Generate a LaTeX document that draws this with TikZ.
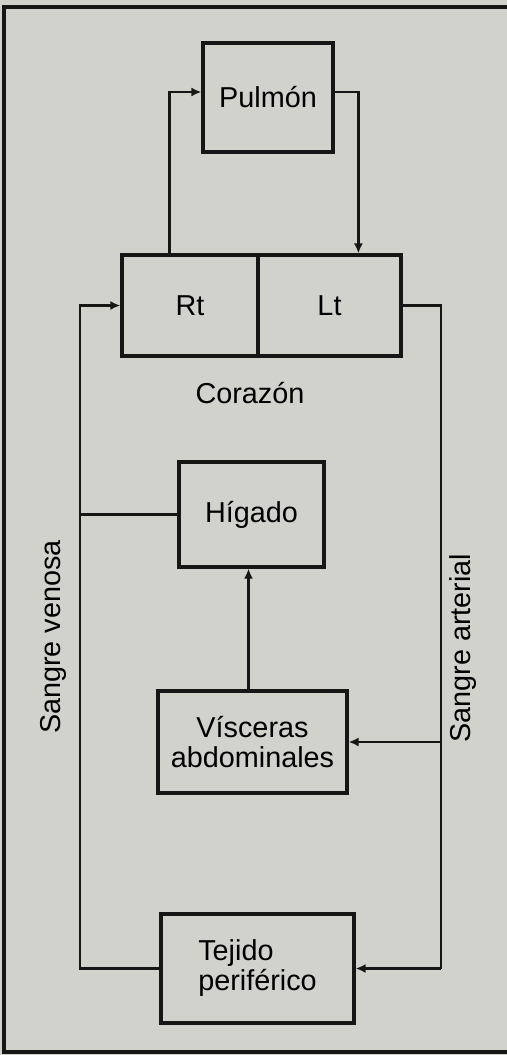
\documentclass[tikz,border=0pt]{standalone}
\usepackage{fontspec}
\setmainfont{Liberation Sans}
\usetikzlibrary{arrows.meta}
\definecolor{paper}{RGB}{210,210,204}
\definecolor{ink}{RGB}{22,22,22}
\tikzset{
  organ/.style={draw=ink, line width=1.6pt, inner sep=0pt, font=\fontsize{14.4}{15}\selectfont, text=black},
  flow/.style={draw=ink, line width=1.4pt, -{Latex[length=5pt,width=4.5pt]}},
  plain/.style={draw=ink, line width=1.4pt},
  lbl/.style={font=\fontsize{14.4}{15}\selectfont, text=black, inner sep=0pt},
  frame/.style={draw=ink, line width=1.6pt}
}
\begin{document}
\begin{tikzpicture}[x=0.5pt,y=-0.5pt]
\fill[paper] (0,0) rectangle (507,1055);
\useasboundingbox (0,0) rectangle (507,1055);
% outer frame
\coordinate (f1) at (507,7);
\coordinate (f2) at (4,7);
\coordinate (f3) at (4,1052);
\coordinate (f4) at (507,1052);
\draw[frame] (f1) -- (f2) -- (f3) -- (f4);
% boxes
\node[organ, minimum width=65pt, minimum height=54.5pt] (Pulmon) at (268,97.5) {Pulmón};
\node[organ, minimum width=68pt, minimum height=50.5pt] (Rt) at (190,305.5) {Rt};
\node[organ, minimum width=71.5pt, minimum height=50.5pt] (Lt) at (329.5,305.5) {Lt};
\node[lbl] (Corazon) at (250,393) {Corazón};
\node[organ, minimum width=72.5pt, minimum height=52.5pt] (Higado) at (251.5,514.5) {Hígado};
\node[organ, minimum width=94.5pt, minimum height=51pt, align=center] (Visceras) at (252.5,742) {Vísceras\\abdominales};
\node[organ, minimum width=96.5pt, minimum height=54.5pt, align=left] (Tejido) at (257.5,968.5) {Tejido\\periférico};
% vertical trunk coordinates
\coordinate (vx) at (80,0);
\coordinate (ax) at (441,0);
% labels
\node[lbl, rotate=90] (venosa) at (53,637) {Sangre venosa};
\node[lbl, rotate=90] (arterial) at (463,648) {Sangre arterial};
% pulmonary circuit
\draw[flow] ([xshift=24.5pt]Rt.north west) |- ([yshift=2.75pt]Pulmon.west);
\draw[flow] ([yshift=2.75pt]Pulmon.east) -| ([xshift=51pt]Lt.north west);
% venous return
\draw[flow] (Tejido.west) -| (vx |- Rt.west) -- (Rt.west);
\draw[plain] (Higado.west) -- (Higado.west -| vx);
% arterial supply
\draw[plain] (Lt.east) -| (ax |- Tejido.east);
\draw[flow] (ax |- Tejido.east) -- (Tejido.east);
\draw[flow] (ax |- Visceras.east) -- (Visceras.east);
% portal flow
\draw[flow] ([xshift=-2pt]Visceras.north) -- ([xshift=-2pt]Visceras.north |- Higado.south);
\end{tikzpicture}
\end{document}
